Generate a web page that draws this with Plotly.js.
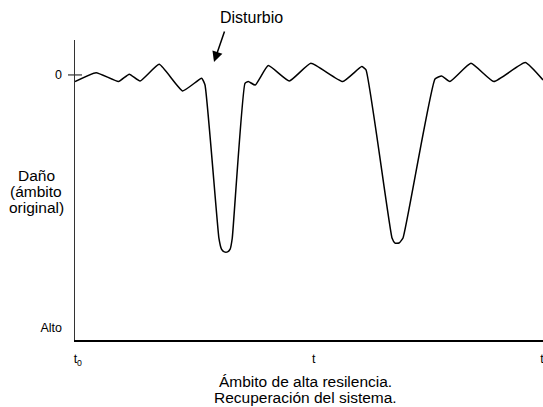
<!DOCTYPE html>
<html>
<head>
<meta charset="utf-8">
<script src="https://cdn.plot.ly/plotly-3.0.1.min.js"></script>
<style>html,body{margin:0;padding:0;background:#fff;}#chart{width:543px;height:407px;}</style>
</head>
<body>
<div id="chart"></div>
<script>
// Time (0 = t0, 100 = tf) and damage level (0 = none, 100 = "Alto")
const timeValues = [0, 4.5, 9.3, 11.6, 13.9, 18.0, 23.0, 27.07, 27.78, 30.75, 31.3, 31.9, 32.6, 33.15, 33.6, 36.32, 37.03, 38.5, 41.3, 45.8, 50.4, 57.2, 61.26, 62.18, 67.74, 68.38, 69.23, 70.09, 76.92, 78.35, 80.1, 84.6, 89.5, 96.2, 100];
const damageValues = [2.6, -0.9, 2.6, -0.3, 2.4, -4.2, 6.3, 1.3, 3.95, 64.5, 68.8, 69.9, 69.9, 68.8, 64.5, 3.3, 2.6, 4.0, -3.7, 2.4, -4.6, 2.6, -3.3, -2.0, 64.4, 66.4, 66.4, 64.4, 1.6, 0.4, 2.6, -4.6, 2.6, -4.9, 2.0];
const xTickVals = [0.6, 51, 100];
const xTickText = ['t<sub>0</sub>', 't', 't<sub>j</sub>'];
const yTickVals = [0, 100];
const yTickText = ['0', 'Alto'];
const yTitleLines = ['Daño', '(ámbito', 'original)'];
const xTitleLines = ['Ámbito de alta resilencia.', 'Recuperación del sistema.'];
const disturbanceTime = 29.7;
const disturbanceLevel = -5.1;
const disturbanceLabel = 'Disturbio';

const font = 'Liberation Sans, Arial, sans-serif';

const trace = {
  x: timeValues,
  y: damageValues,
  mode: 'lines',
  line: {color: '#000', width: 1.5, shape: 'spline', smoothing: 0.4},
  hoverinfo: 'skip'
};

const annotations = [];
yTitleLines.forEach((t, i) => {
  annotations.push({xref: 'paper', yref: 'paper', x: -0.083, y: 1 - (175 + 16 * i - 40) / 300,
    xanchor: 'center', yanchor: 'middle', text: t, showarrow: false, font: {family: font, size: 15.5}});
});
xTitleLines.forEach((t, i) => {
  annotations.push({xref: 'paper', yref: 'paper', x: (305 - 75) / 468, y: 1 - (382 + 15.5 * i - 40) / 300,
    xanchor: 'center', yanchor: 'middle', text: t, showarrow: false, font: {family: font, size: 15.5}});
});
annotations.push({xref: 'x', yref: 'y', x: disturbanceTime, y: disturbanceLevel, text: '', showarrow: true,
  ax: 11, ay: -32, arrowhead: 2, arrowsize: 1.4, arrowwidth: 1.5, arrowcolor: '#000'});
annotations.push({xref: 'x', yref: 'paper', x: 37.8, y: 1 + (40 - 17) / 300, text: disturbanceLabel, showarrow: false,
  xanchor: 'center', yanchor: 'middle', font: {family: font, size: 16}});

const layout = {
  width: 543, height: 407,
  margin: {l: 75, r: 0, t: 40, b: 67},
  paper_bgcolor: '#fff', plot_bgcolor: '#fff',
  showlegend: false,
  font: {family: font, size: 12.5, color: '#000'},
  xaxis: {
    range: [0, 100], showgrid: false, zeroline: false,
    showline: true, linecolor: '#000', linewidth: 2,
    tickvals: xTickVals, ticktext: xTickText, ticks: '',
    ticklabelstandoff: 6, ticklabeloverflow: 'allow',
    tickfont: {family: font, size: 12.5}
  },
  yaxis: {
    range: [104.7, -13.8], showgrid: false, zeroline: false,
    showline: true, linecolor: '#333', linewidth: 1.5,
    tickvals: yTickVals, ticktext: yTickText, ticks: '',
    ticklabelstandoff: 9,
    tickfont: {family: font, size: 12.5}
  },
  shapes: [
    {type: 'line', xref: 'paper', yref: 'y', x0: -0.015, x1: 0.015, y0: 0, y1: 0, line: {color: '#333', width: 1.2}}
  ],
  annotations: annotations
};

Plotly.newPlot('chart', [trace], layout, {displayModeBar: false, staticPlot: true});
</script>
</body>
</html>
